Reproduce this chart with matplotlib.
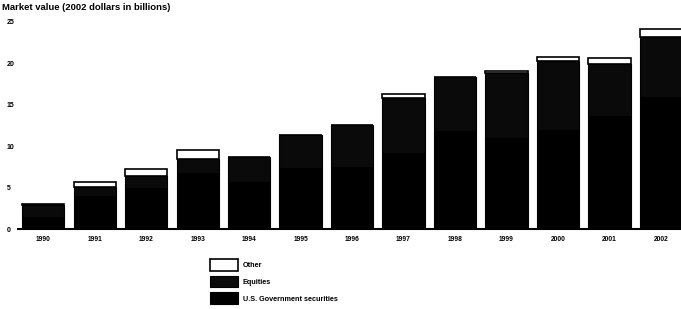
import matplotlib
matplotlib.use("Agg")
import matplotlib.pyplot as plt
import numpy as np

years = ["1990", "1991", "1992", "1993", "1994", "1995", "1996",
         "1997", "1998", "1999", "2000", "2001", "2002"]
gov_securities = [1.5, 4.0, 4.9, 6.8, 5.7, 7.4, 7.5, 9.2, 11.8, 11.0, 11.9, 13.6, 15.9]
equities = [1.4, 1.1, 1.55, 1.7, 3.05, 4.0, 5.1, 6.6, 6.5, 7.8, 8.4, 6.3, 7.3]
other = [0.1, 0.6, 0.85, 1.0, 0.0, 0.0, 0.0, 0.5, 0.1, 0.25, 0.5, 0.7, 0.9]
yticks = [0, 5, 10, 15, 20, 25]

plt.rcParams['font.family'] = ['Liberation Sans', 'DejaVu Sans']
plt.rcParams['font.weight'] = 'bold'

fig = plt.figure(figsize=(6.81, 3.09), dpi=100)
ax = fig.add_axes([18/681, 80/309, 663/681, 207/309])

x = np.arange(len(years))
w = 0.82
gov = np.array(gov_securities)
eq = np.array(equities)
ot = np.array(other)

b1 = ax.bar(x, gov, w, color='black', edgecolor='black', linewidth=0.8,
            label='U.S. Government securities')
b2 = ax.bar(x, eq, w, bottom=gov, color='#0a0a0a', edgecolor='black', linewidth=0.8,
            label='Equities')
b3 = ax.bar(x, ot, w, bottom=gov + eq, color='white', edgecolor='black', linewidth=1.2,
            label='Other')

ax.set_xlim(-0.49, 12.39)
ax.set_ylim(0, 25)
ax.set_yticks(yticks)
ax.set_yticklabels([str(v) for v in yticks], fontsize=5.0, fontweight='bold')
ax.set_xticks(x)
ax.set_xticklabels(years, fontsize=4.8, fontweight='bold')
ax.tick_params(axis='both', length=0)
ax.tick_params(axis='y', pad=8)
ax.tick_params(axis='x', pad=5)
for lab in ax.get_yticklabels():
    lab.set_horizontalalignment('left')
for s in ['top', 'right', 'left']:
    ax.spines[s].set_visible(False)
ax.spines['bottom'].set_linewidth(1.5)

fig.text(2/681, 1 - 8/309, "Market value (2002 dollars in billions)",
         fontsize=6.8, fontweight='bold', va='center', ha='left')

fig.legend(handles=[b3, b2, b1],
           labels=['Other', 'Equities', 'U.S. Government securities'],
           loc='upper left', bbox_to_anchor=(205/681, 1 - 254/309),
           frameon=False, handlelength=3.9, handleheight=2.1,
           labelspacing=0.7, handletextpad=0.6, borderpad=0.2,
           prop={'weight': 'bold', 'size': 5.2})

fig.savefig("out.png", dpi=100)
